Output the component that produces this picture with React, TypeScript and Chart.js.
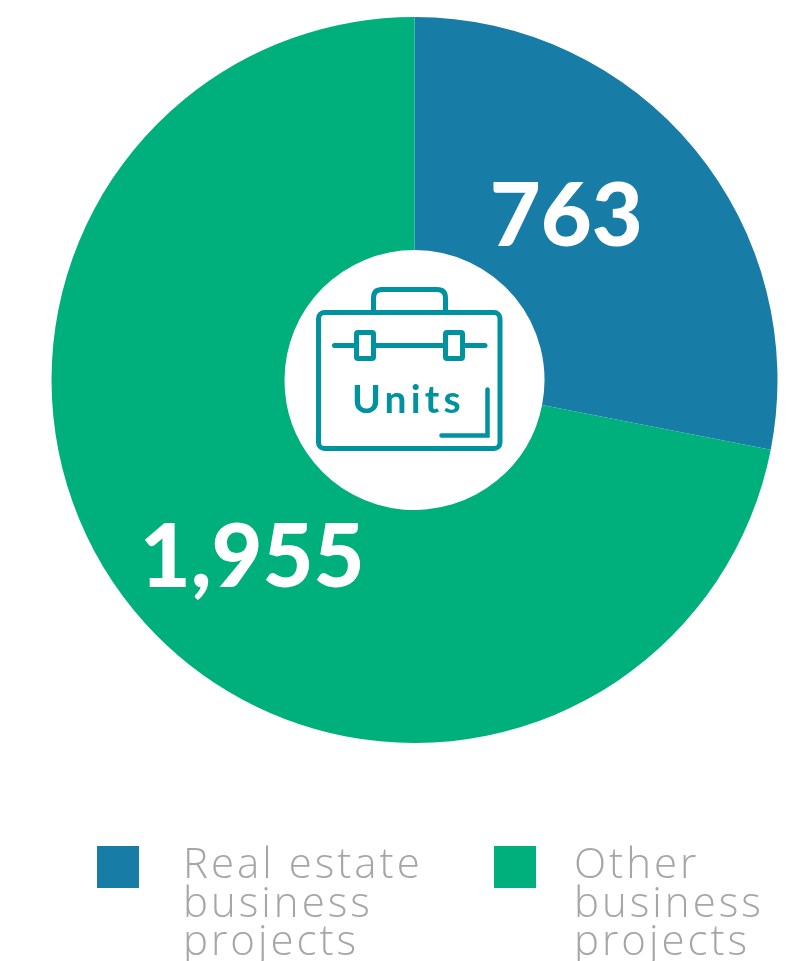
import React, { useEffect, useRef } from "react";
import { Chart, registerables } from "chart.js";

Chart.register(...registerables);

const categories = ["Real estate business projects", "Other business projects"];
const values = [763, 1955];
const valueLabels = ["763", "1,955"];
const colors = ["#177ca6", "#00b07c"];
const legendLines = [
  ["Real estate", "business", "projects"],
  ["Other", "business", "projects"],
];
const centerLabel = "Units";

const LABEL_FONT = "Lato, sans-serif";
const LEGEND_FONT = "'Open Sans', sans-serif";
const ICON = "#00929f";

// polar position of each value label around the chart centre
const labelOffsets = [
  { radius: 225, angle: 42.4 },
  { radius: 239, angle: 222.8 },
];

const valueLabelPlugin = {
  id: "valueLabels",
  afterDatasetsDraw(chart: any) {
    const { ctx } = chart;
    const meta = chart.getDatasetMeta(0);
    ctx.save();
    ctx.fillStyle = "#ffffff";
    ctx.font = `900 88px ${LABEL_FONT}`;
    ctx.textAlign = "center";
    ctx.textBaseline = "alphabetic";
    meta.data.forEach((arc: any, i: number) => {
      const o = labelOffsets[i];
      const a = (o.angle * Math.PI) / 180;
      ctx.fillText(valueLabels[i], arc.x + o.radius * Math.sin(a), arc.y - o.radius * Math.cos(a) + 32);
    });
    ctx.restore();
  },
};

export default function App() {
  const ref = useRef<HTMLCanvasElement>(null);
  useEffect(() => {
    const chart = new Chart(ref.current as HTMLCanvasElement, {
      type: "doughnut",
      data: {
        labels: categories,
        datasets: [{ data: values, backgroundColor: colors, borderWidth: 0 }],
      },
      options: {
        animation: false,
        responsive: false,
        cutout: 130,
        layout: { padding: { left: 51.5, right: 18.5, top: 17, bottom: 218 } },
        plugins: { legend: { display: false }, tooltip: { enabled: false } },
      },
      plugins: [valueLabelPlugin],
    } as any);
    return () => chart.destroy();
  }, []);

  const swatchX = [97, 494];
  const textX = [183, 574];

  return (
    <div style={{ position: "fixed", left: 0, top: 0, width: 796, height: 961, overflow: "hidden", background: "#fff" }}>
      <canvas ref={ref} width={796} height={961} style={{ position: "absolute", left: 0, top: 0, width: 796, height: 961 }} />
      <svg width={796} height={961} style={{ position: "absolute", left: 0, top: 0 }} fill="none" stroke={ICON}>
        <path d="M373.5 311 V298 Q373.5 289.5 382 289.5 H437 Q445.5 289.5 445.5 298 V311" strokeWidth={5} />
        <rect x={318.5} y={312.5} width={181.5} height={136} rx={6} strokeWidth={5} />
        <line x1={334.5} y1={345.5} x2={485} y2={345.5} strokeWidth={5} strokeLinecap="round" />
        <rect x={356.5} y={332.5} width={17} height={26} rx={1.5} strokeWidth={5} fill="#fff" />
        <rect x={445.5} y={332.5} width={17} height={26} rx={1.5} strokeWidth={5} fill="#fff" />
        <path d="M487.5 389.5 V435.5 H441.5" strokeWidth={4.5} strokeLinecap="round" />
        <text x={352} y={413} stroke="none" fill={ICON} style={{ font: `700 39px ${LABEL_FONT}`, letterSpacing: "4.2px" }}>
          {centerLabel}
        </text>
      </svg>
      {categories.map((name, i) => (
        <React.Fragment key={name}>
          <div style={{ position: "absolute", left: swatchX[i], top: 846, width: 42, height: 42, background: colors[i] }} />
          <div
            style={{
              position: "absolute",
              left: textX[i],
              top: 843,
              font: `300 42px/38.5px ${LEGEND_FONT}`,
              letterSpacing: "3px",
              color: "#a6a6a6",
              whiteSpace: "nowrap",
            }}
          >
            {legendLines[i].map((l) => (
              <div key={l}>{l}</div>
            ))}
          </div>
        </React.Fragment>
      ))}
    </div>
  );
}
